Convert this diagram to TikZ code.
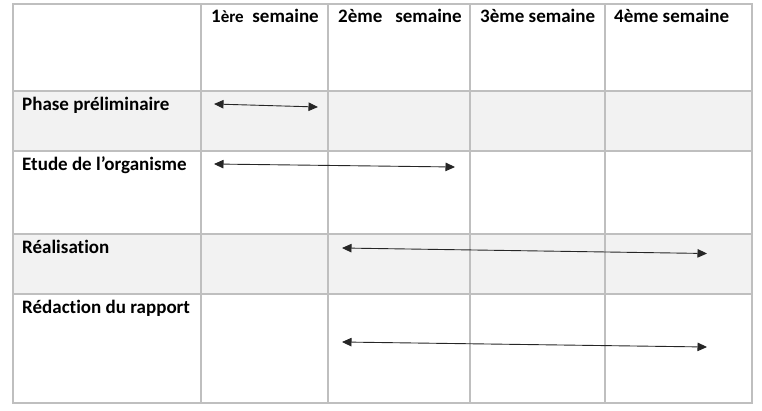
\documentclass[tikz,border=0pt]{standalone}
\usepackage{fontspec}
\setmainfont[Ligatures=NoCommon]{Carlito}
\usetikzlibrary{arrows.meta}

\definecolor{gridcolor}{rgb}{0.75, 0.75, 0.75}
\definecolor{shadecolor}{rgb}{0.949, 0.949, 0.949}

\begin{document}
\begin{tikzpicture}[x=1pt,y=-1pt,
  gridline/.style={draw=gridcolor,line width=1.5pt},
  shaderow/.style={fill=shadecolor},
  celltext/.style={anchor=base west,inner sep=0pt,font=\fontsize{19}{21}\selectfont\bfseries},
  span/.style={{Triangle[length=9.5pt,width=8.5pt]}-{Triangle[length=9.5pt,width=8.5pt]},line width=0.9pt,draw=black!85}]
\useasboundingbox (0,0) rectangle (762,410);
% shaded rows
\fill[shaderow] (13,91) rectangle (752,151);
\fill[shaderow] (13,234) rectangle (752,294);
% grid
\draw[gridline] (13,4) rectangle (752,403);
\draw[gridline] (201,4)--(201,403);
\draw[gridline] (328,4)--(328,403);
\draw[gridline] (470,4)--(470,403);
\draw[gridline] (605,4)--(605,403);
\draw[gridline] (13,91)--(752,91);
\draw[gridline] (13,151)--(752,151);
\draw[gridline] (13,234)--(752,234);
\draw[gridline] (13,294)--(752,294);
% header
\node[celltext] (week1) at (211,22.5){1{\fontsize{17}{18}\selectfont ère}~~semaine};
\node[celltext] (week2) at (338,22.5){2ème~~~semaine};
\node[celltext] (week3) at (480,22.5){3ème semaine};
\node[celltext] (week4) at (614,22.5){4ème semaine};
% tasks
\node[celltext] (phase) at (22,110.3){Phase préliminaire};
\node[celltext] (etude) at (22,170){Etude de l’organisme};
\node[celltext] (realisation) at (22,253){Réalisation};
\node[celltext] (redaction) at (22,313){Rédaction du rapport};
% spans
\coordinate (phaseA) at (214,104);
\coordinate (phaseB) at (318,107);
\coordinate (etudeA) at (214,164);
\coordinate (etudeB) at (455,167);
\coordinate (realA) at (342,248);
\coordinate (realB) at (707,253.5);
\coordinate (redA) at (342,342);
\coordinate (redB) at (707,347);
\draw[span] (phaseA)--(phaseB);
\draw[span] (etudeA)--(etudeB);
\draw[span] (realA)--(realB);
\draw[span] (redA)--(redB);
\end{tikzpicture}
\end{document}
